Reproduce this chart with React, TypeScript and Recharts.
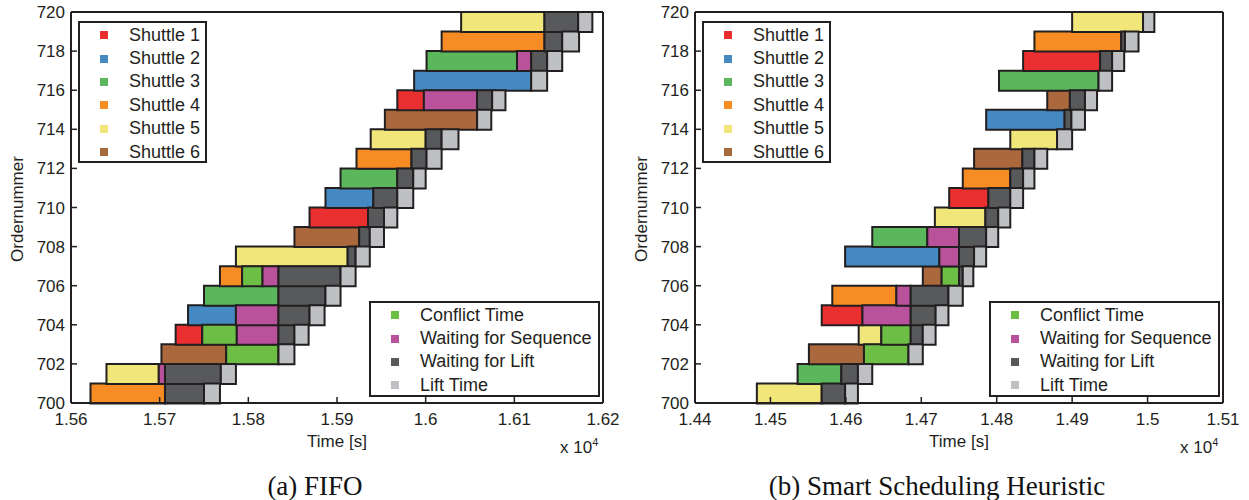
import { BarChart, Bar, XAxis, YAxis, Cell, CartesianGrid } from 'recharts'

const orders = [701, 702, 703, 704, 705, 706, 707, 708, 709, 710, 711, 712, 713, 714, 715, 716, 717, 718, 719, 720]
const orderTicks = [700, 702, 704, 706, 708, 710, 712, 714, 716, 718, 720]

const shuttleNames = ['Shuttle 1', 'Shuttle 2', 'Shuttle 3', 'Shuttle 4', 'Shuttle 5', 'Shuttle 6']
const shuttleColors = ['#e92f30', '#4589c3', '#5ab75c', '#f68c23', '#f0e67a', '#ac683d']
const phaseNames = ['Conflict Time', 'Waiting for Sequence', 'Waiting for Lift', 'Lift Time']
const phaseColors = ['#6cbf44', '#b9519b', '#58595b', '#bfc0c3']

// (a) FIFO, seconds
const fifoTicks = [15600, 15700, 15800, 15900, 16000, 16100, 16200]
const fifoShuttle = [4, 5, 6, 1, 2, 3, 4, 5, 6, 1, 2, 3, 4, 5, 6, 1, 2, 3, 4, 5]
const fifoStart = [15622, 15640, 15702, 15718, 15732, 15750, 15768, 15786, 15852, 15869, 15887, 15904, 15922, 15938, 15954, 15968, 15987, 16001, 16018, 16040]
const fifoTravel = [84, 59, 73, 30, 54, 84, 25, 126, 73, 66, 54, 64, 62, 62, 104, 30, 132, 102, 116, 94]
const fifoConflict = [0, 0, 59, 39, 0, 0, 23, 0, 0, 0, 0, 0, 0, 0, 0, 0, 0, 0, 0, 0]
const fifoSeqWait = [0, 7, 0, 47, 48, 0, 18, 0, 0, 0, 0, 0, 0, 0, 0, 60, 0, 16, 0, 0]
const fifoLiftWait = [44, 63, 0, 18, 35, 53, 70, 9, 12, 18, 27, 18, 17, 18, 0, 17, 0, 18, 20, 38]
const fifoLift = [18, 17, 18, 16, 17, 17, 17, 16, 16, 15, 18, 14, 17, 19, 16, 15, 18, 17, 19, 16]

// (b) Smart Scheduling Heuristic, seconds
const smartTicks = [14400, 14500, 14600, 14700, 14800, 14900, 15000, 15100]
const smartShuttle = [5, 3, 6, 5, 1, 4, 6, 2, 3, 5, 1, 4, 6, 5, 2, 6, 3, 1, 4, 5]
const smartStart = [14482, 14536, 14551, 14617, 14568, 14582, 14702, 14599, 14635, 14718, 14737, 14755, 14770, 14818, 14786, 14867, 14803, 14835, 14850, 14900]
const smartTravel = [86, 58, 73, 30, 54, 85, 25, 125, 73, 67, 52, 63, 64, 62, 104, 30, 132, 102, 115, 94]
const smartConflict = [0, 0, 59, 39, 0, 0, 23, 0, 0, 0, 0, 0, 0, 0, 0, 0, 0, 0, 0, 0]
const smartSeqWait = [0, 0, 0, 0, 64, 19, 0, 26, 42, 0, 0, 0, 0, 0, 0, 0, 0, 0, 0, 0]
const smartLiftWait = [31, 22, 0, 16, 33, 50, 5, 20, 36, 17, 29, 17, 16, 0, 9, 20, 0, 16, 5, 0]
const smartLift = [17, 19, 19, 17, 17, 19, 14, 16, 16, 16, 17, 15, 17, 20, 18, 16, 18, 16, 18, 15]

const ink = '#231f20'
const sans = "'Liberation Sans', Arial, sans-serif"

function buildRows(shuttle: number[], start: number[], travel: number[], conflict: number[], seqWait: number[], liftWait: number[], lift: number[]) {
  return orders.map((order, i) => ({
    order,
    shuttle: shuttle[i],
    start: start[i],
    travel: travel[i],
    conflict: conflict[i],
    seqWait: seqWait[i],
    liftWait: liftWait[i],
    lift: lift[i],
  }))
}

const fifoRows = buildRows(fifoShuttle, fifoStart, fifoTravel, fifoConflict, fifoSeqWait, fifoLiftWait, fifoLift)
const smartRows = buildRows(smartShuttle, smartStart, smartTravel, smartConflict, smartSeqWait, smartLiftWait, smartLift)

// bottom tick: inward mark plus label
const BottomTick = ({ x, y, payload, fmt }: any) => (
  <g>
    <line x1={x} x2={x} y1={y - 10} y2={y - 16} stroke={ink} strokeWidth={1.5} />
    <text x={x} y={y} dy={12} textAnchor="middle" fill={ink} fontSize={17} fontFamily={sans}>{fmt(payload.value)}</text>
  </g>
)

// left tick: inward mark plus label
const LeftTick = ({ x, y, payload }: any) => (
  <g>
    <line x1={x + 6} x2={x + 12} y1={y} y2={y} stroke={ink} strokeWidth={1.5} />
    <text x={x} y={y} dy={6} textAnchor="end" fill={ink} fontSize={17} fontFamily={sans}>{payload.value}</text>
  </g>
)

function LegendBox({ names, colors, left, top, width, height }: any) {
  return (
    <div style={{ position: 'absolute', left, top, width, height, border: `2px solid ${ink}`, background: '#fff', boxSizing: 'border-box' }}>
      {names.map((n: string, i: number) => (
        <div key={n} style={{ position: 'absolute', left: 0, top: 0.5 + i * 23.4, height: 23.4, display: 'flex', alignItems: 'center', whiteSpace: 'nowrap' }}>
          <span style={{ marginLeft: 20, width: 8, height: 8, background: colors[i] }} />
          <span style={{ marginLeft: 21, fontSize: 18, color: ink, fontFamily: sans }}>{n}</span>
        </div>
      ))}
    </div>
  )
}

function Panel({ rows, ticks, left, axisWidth, caption }: any) {
  const domain = [ticks[0], ticks[ticks.length - 1]]
  const fmt = (v: number) => String(parseFloat((v / 10000).toFixed(2)))
  const seg = { stackId: 's', stroke: ink, strokeWidth: 2, isAnimationActive: false }
  const plotLeft = axisWidth
  const plotRight = 603
  const mid = (plotLeft + plotRight) / 2
  const line = { stroke: ink, strokeWidth: 2 }
  const tickLine = { stroke: ink, strokeWidth: 1.5 }
  return (
    <div style={{ position: 'absolute', left, top: 0, width: 630, height: 500 }}>
      <BarChart width={630} height={440} data={rows} layout="vertical" barCategoryGap={0} barGap={0}
        margin={{ top: 12, right: 27, left: 0, bottom: 0 }}>
        <CartesianGrid stroke={ink} strokeWidth={2}
          verticalCoordinatesGenerator={({ offset }: any) => [offset.left + offset.width]}
          horizontalCoordinatesGenerator={({ offset }: any) => [offset.top]} />
        <YAxis type="category" dataKey="order" hide reversed width={0} />
        <YAxis yAxisId="num" dataKey="order" type="number" domain={[700, 720]} ticks={orderTicks} allowDataOverflow interval={0}
          reversed width={axisWidth} tickSize={0} tickMargin={6} tickLine={false}
          axisLine={line} tick={<LeftTick />} />
        <YAxis yAxisId="numR" dataKey="order" orientation="right" mirror type="number" domain={[700, 720]} ticks={orderTicks} allowDataOverflow interval={0}
          reversed width={2} tick={false} tickSize={6}
          axisLine={line} tickLine={tickLine} />
        <XAxis type="number" domain={domain} ticks={ticks} allowDataOverflow interval={0} height={37}
          tickSize={0} tickMargin={10} tickLine={false}
          axisLine={line} tick={<BottomTick fmt={fmt} />} />
        <XAxis xAxisId="top" orientation="top" mirror type="number" domain={domain} ticks={ticks} allowDataOverflow interval={0}
          height={2} tick={false} tickSize={6}
          axisLine={line} tickLine={tickLine} />
        <Bar dataKey="start" stackId="s" fill="none" stroke="none" isAnimationActive={false} />
        <Bar dataKey="travel" {...seg}>
          {rows.map((r: any) => <Cell key={r.order} fill={shuttleColors[r.shuttle - 1]} />)}
        </Bar>
        <Bar dataKey="conflict" fill={phaseColors[0]} {...seg} />
        <Bar dataKey="seqWait" fill={phaseColors[1]} {...seg} />
        <Bar dataKey="liftWait" fill={phaseColors[2]} {...seg} />
        <Bar dataKey="lift" fill={phaseColors[3]} {...seg} />
      </BarChart>

      <LegendBox names={shuttleNames} colors={shuttleColors} left={plotLeft + 7} top={21} width={129} height={142} />
      <LegendBox names={phaseNames} colors={phaseColors} left={plotRight - 234} top={301} width={231} height={96} />

      <div style={{ position: 'absolute', left: plotLeft - 53, top: 208.5, transform: 'translate(-50%,-50%) rotate(-90deg)', fontSize: 17, fontFamily: sans, color: ink, whiteSpace: 'nowrap' }}>
        Ordernummer
      </div>
      <div style={{ position: 'absolute', left: mid, top: 442, transform: 'translate(-50%,-50%)', fontSize: 17, fontFamily: sans, color: ink, whiteSpace: 'nowrap' }}>
        Time [s]
      </div>
      <div style={{ position: 'absolute', left: plotRight - 43, top: 436, fontSize: 17, fontFamily: sans, color: ink, whiteSpace: 'nowrap' }}>
        x 10<sup style={{ fontSize: 11 }}>4</sup>
      </div>
      <div style={{ position: 'absolute', left: mid - 22, top: 486, transform: 'translate(-50%,-50%)', fontSize: 27, fontFamily: "'Liberation Serif', 'Times New Roman', serif", color: '#111', whiteSpace: 'nowrap' }}>
        {caption}
      </div>
    </div>
  )
}

export default function App() {
  return (
    <div style={{ position: 'absolute', left: 0, top: 0, width: 1249, height: 500, background: '#fff', overflow: 'hidden' }}>
      <Panel rows={fifoRows} ticks={fifoTicks} left={0} axisWidth={71} caption="(a) FIFO" />
      <Panel rows={smartRows} ticks={smartTicks} left={620} axisWidth={75} caption="(b) Smart Scheduling Heuristic" />
    </div>
  )
}
